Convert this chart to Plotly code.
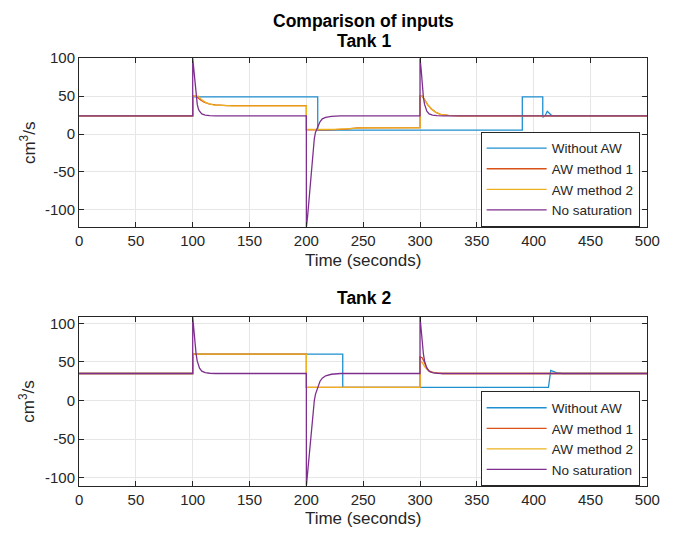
import plotly.graph_objects as go

# ---------------- Data ----------------
series_names = ["Without AW", "AW method 1", "AW method 2", "No saturation"]
colors = ["#1f8fcf", "#d95319", "#edb120", "#7e2f8e"]

# Tank 1
t1_noaw = [0, 100, 100, 210, 210, 390, 390, 408, 408, 410, 412, 414, 416, 420, 500]
v1_noaw = [24, 24, 49, 49, 5, 5, 49, 49, 22, 24, 30, 27, 24, 24, 24]

t1_aw1 = [0, 100, 100, 103, 106, 110, 115, 120, 130, 200, 200, 220, 235, 245, 300, 300, 302, 304, 307, 310, 314, 318, 325, 335, 500]
v1_aw1 = [24, 24, 50, 50, 46, 42, 39.5, 38.5, 37.5, 37.5, 5.5, 5.5, 6.5, 8, 8.5, 50, 50, 45, 38, 33, 28.5, 26, 24.5, 24, 24]

t1_aw2 = [0, 100, 100, 105, 108, 112, 118, 125, 135, 200, 200, 225, 240, 250, 300, 300, 302, 304, 307, 310, 314, 318, 325, 335, 500]
v1_aw2 = [24, 24, 50, 50, 45, 41, 38.5, 37.5, 37, 37, 6, 6, 7, 8, 8, 50, 50, 45, 38, 33, 28.5, 26, 24.5, 24, 24]

t1_nosat = [0, 100, 100, 101, 102, 103, 104, 105, 106, 108, 111, 115, 120,
            200, 200, 201, 202, 203, 204, 205, 206, 207, 208, 210, 212, 214, 217, 222, 230,
            300, 300, 301, 302, 303, 304, 305, 306, 308, 311, 315, 320, 500]
v1_nosat = [24, 24, 100, 85, 62, 48, 39, 33, 30, 26.5, 25, 24.3, 24,
            24, -123, -110, -92, -75, -60, -40, -22, -6, 2, 10, 16, 20, 22, 23.3, 24,
            24, 100, 85, 62, 48, 39, 33, 30, 26.5, 25, 24.3, 24, 24]

# Tank 2
t2_noaw = [0, 100, 100, 232, 232, 413, 413, 415, 417, 420, 425, 500]
v2_noaw = [35, 35, 60, 60, 17, 17, 17, 39, 38, 36, 35, 35]

t2_aw1 = [0, 100, 100, 200, 200, 300, 300, 301, 302, 303, 304, 305, 307, 309, 312, 315, 320, 500]
v2_aw1 = [35, 35, 60, 60, 17, 17, 57, 56, 55, 52, 48, 45, 40, 37, 36, 35.3, 35, 35]

t2_aw2 = [0, 100, 100, 200, 200, 300, 300, 302, 304, 307, 310, 315, 320, 500]
v2_aw2 = [35, 35, 60, 60, 17, 17, 52, 49, 44, 39, 37, 35.5, 35, 35]

t2_nosat = [0, 100, 100, 101, 102, 103, 104, 105, 106, 108, 111, 115, 120,
            200, 200, 201, 202, 203, 204, 205, 206, 207, 208, 210, 212, 214, 217, 222, 230,
            300, 300, 301, 302, 303, 304, 305, 306, 308, 311, 315, 320, 500]
v2_nosat = [35, 35, 108.5, 92, 72, 60, 51, 45, 42, 38, 36, 35.3, 35,
            35, -110.6, -95, -78, -60, -45, -28, -12, 0, 8, 18, 25, 29, 32, 34, 35,
            35, 108.5, 92, 72, 60, 51, 45, 42, 38, 36, 35.3, 35, 35]

x_ticks = [0, 50, 100, 150, 200, 250, 300, 350, 400, 450, 500]
y_ticks = [-100, -50, 0, 50, 100]
y_tick_text = ["-100", "-50", "0", "50", "100"]

main_title = "Comparison of inputs"
sub_titles = ["Tank 1", "Tank 2"]
x_title = "Time (seconds)"
y_title = "cm<sup>3</sup>/s"

# ---------------- Figure ----------------
W, H = 673, 537
FONT = "Liberation Sans, Arial, Helvetica, sans-serif"
AXC = "#262626"

fig = go.Figure()
top = [(t1_noaw, v1_noaw), (t1_aw1, v1_aw1), (t1_aw2, v1_aw2), (t1_nosat, v1_nosat)]
bot = [(t2_noaw, v2_noaw), (t2_aw1, v2_aw1), (t2_aw2, v2_aw2), (t2_nosat, v2_nosat)]
for i, (t, v) in enumerate(top):
    fig.add_trace(go.Scatter(x=t, y=v, mode="lines", name=series_names[i],
                             line=dict(color=colors[i], width=1.3),
                             xaxis="x", yaxis="y", legend="legend"))
for i, (t, v) in enumerate(bot):
    fig.add_trace(go.Scatter(x=t, y=v, mode="lines", name=series_names[i],
                             line=dict(color=colors[i], width=1.3),
                             xaxis="x2", yaxis="y2", legend="legend2"))

def px_x(p):
    return p / W

def px_y(p):
    return 1 - p / H

x0, x1 = px_x(77), px_x(660)
top_dom = [px_y(222), px_y(50)]
bot_dom = [px_y(485), px_y(313)]

common_axis = dict(showline=True, mirror="ticks", linecolor=AXC, linewidth=1,
                   ticks="inside", ticklen=5, tickcolor=AXC, tickwidth=1,
                   showgrid=True, gridcolor="#e6e6e6", gridwidth=1, zeroline=False,
                   tickfont=dict(family=FONT, size=15, color=AXC))

legend_common = dict(xanchor="left", yanchor="top", bordercolor=AXC, borderwidth=1,
                     bgcolor="white", itemwidth=60, tracegroupgap=0,
                     font=dict(family=FONT, size=13.5, color=AXC))

fig.update_layout(
    width=W, height=H, margin=dict(l=0, r=0, t=0, b=0),
    paper_bgcolor="white", plot_bgcolor="white", showlegend=True,
    xaxis=dict(domain=[x0, x1], range=[0, 500], tickvals=x_ticks, anchor="y",
               title=dict(text=x_title, font=dict(family=FONT, size=17, color=AXC), standoff=5),
               **common_axis),
    yaxis=dict(domain=top_dom, range=[-123, 100], tickvals=y_ticks, ticktext=y_tick_text,
               anchor="x", **common_axis),
    xaxis2=dict(domain=[x0, x1], range=[0, 500], tickvals=x_ticks, anchor="y2",
                title=dict(text=x_title, font=dict(family=FONT, size=17, color=AXC), standoff=5),
                **common_axis),
    yaxis2=dict(domain=bot_dom, range=[-110.6, 108.5], tickvals=y_ticks, ticktext=y_tick_text,
                anchor="x2", **common_axis),
    legend=dict(x=px_x(489), y=px_y(125), **legend_common),
    legend2=dict(x=px_x(489), y=px_y(389), **legend_common),
)

ann = []
ann.append(dict(text="<b>%s</b>" % main_title, x=px_x(369), y=px_y(12), xref="paper", yref="paper",
                showarrow=False, xanchor="center", yanchor="middle",
                font=dict(family=FONT, size=17.5, color="black")))
ann.append(dict(text="<b>%s</b>" % sub_titles[0], x=px_x(369), y=px_y(33), xref="paper", yref="paper",
                showarrow=False, xanchor="center", yanchor="middle",
                font=dict(family=FONT, size=17.5, color="black")))
ann.append(dict(text="<b>%s</b>" % sub_titles[1], x=px_x(369), y=px_y(294), xref="paper", yref="paper",
                showarrow=False, xanchor="center", yanchor="middle",
                font=dict(family=FONT, size=17.5, color="black")))
for yc in (136, 399):
    ann.append(dict(text=y_title, x=px_x(24), y=px_y(yc), xref="paper", yref="paper",
                    showarrow=False, xanchor="center", yanchor="middle", textangle=-90,
                    font=dict(family=FONT, size=17, color=AXC)))
fig.update_layout(annotations=ann)

fig.write_html("out.html")
